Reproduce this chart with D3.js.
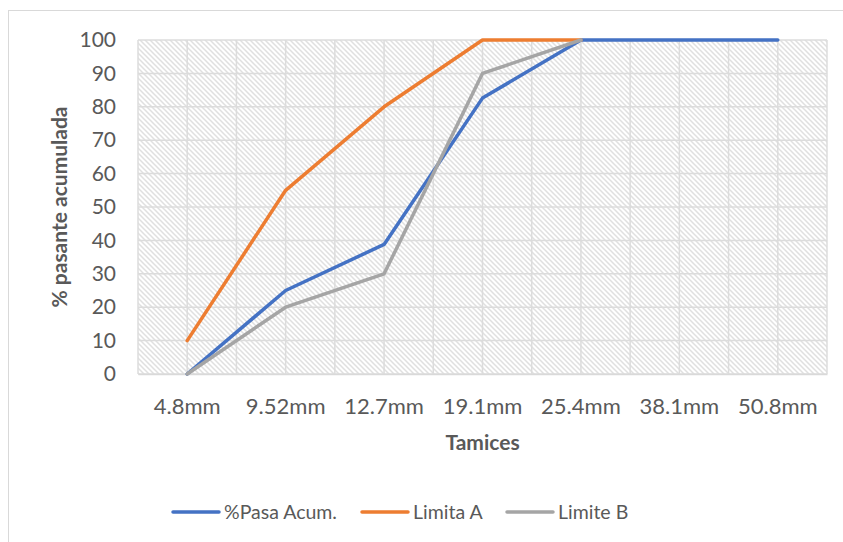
<!DOCTYPE html>
<html><head><meta charset="utf-8">
<script src="https://cdn.jsdelivr.net/npm/d3@7"></script>
<style>body{margin:0;background:#fff}svg{display:block}</style>
</head><body>
<script>
const categories = ["4.8mm","9.52mm","12.7mm","19.1mm","25.4mm","38.1mm","50.8mm"];
const pasaAcum = [0, 25, 38.8, 82.6, 100, 100, 100];
const limitaA = [10, 55, 80, 100, 100];
const limiteB = [0, 20, 30, 90, 100];
const yTicks = [0,10,20,30,40,50,60,70,80,90,100];
const seriesNames = ["%Pasa Acum.","Limita A","Limite B"];
const colors = ["#4472C4","#ED7D31","#A5A5A5"];

const W=843,H=542;
const svg=d3.select("body").append("svg").attr("width",W).attr("height",H);
const font="Lato, 'Open Sans', sans-serif";
const txt="#595959";

// outer border
svg.append("rect").attr("x",8.5).attr("y",10.5).attr("width",900).attr("height",600)
  .attr("fill","#fff").attr("stroke","#d9d9d9").attr("stroke-width",1);

const L=138,R=827,T=40,B=374;
const x=d3.scaleBand().domain(categories).range([L,R]);
const y=d3.scaleLinear().domain([0,100]).range([B,T]);

const defs=svg.append("defs");
const pat=defs.append("pattern").attr("id","hatch").attr("patternUnits","userSpaceOnUse")
  .attr("width",5).attr("height",5);
pat.append("rect").attr("width",5).attr("height",5).attr("fill","#fff");
pat.append("path").attr("d","M-1,-1 L6,6 M-1,4 L1,6 M4,-1 L6,1").attr("stroke","#e0e0e0").attr("stroke-width",1.5);

svg.append("rect").attr("x",L).attr("y",T).attr("width",R-L).attr("height",B-T).attr("fill","url(#hatch)");

// gridlines
const g=svg.append("g");
g.selectAll("line.h").data(yTicks).join("line")
  .attr("x1",L).attr("x2",R).attr("y1",d=>y(d)).attr("y2",d=>y(d))
  .attr("stroke","#dcdcdc").attr("stroke-width",1.5);
const vx=[];
categories.forEach(c=>{vx.push(x(c)); vx.push(x(c)+x.bandwidth()/2);});
vx.push(R);
g.selectAll("line.v").data(vx).join("line")
  .attr("x1",d=>d).attr("x2",d=>d).attr("y1",T).attr("y2",B)
  .attr("stroke","#dcdcdc").attr("stroke-width",1.5);

// axes
const yAxis=svg.append("g").attr("transform",`translate(${L},0)`)
  .call(d3.axisLeft(y).tickValues(yTicks).tickSize(0).tickPadding(22));
yAxis.select(".domain").remove();
yAxis.selectAll("text").attr("font-family",font).attr("font-size",21).attr("fill",txt);

const xAxis=svg.append("g").attr("transform",`translate(0,${B})`)
  .call(d3.axisBottom(x).tickSize(0).tickPadding(24));
xAxis.select(".domain").attr("stroke","#d9d9d9").attr("stroke-width",1.5);
xAxis.selectAll("text").attr("font-family",font).attr("font-size",22).attr("fill",txt);

// titles
svg.append("text").attr("x",(L+R)/2).attr("y",450).attr("text-anchor","middle")
  .attr("font-family",font).attr("font-size",21).attr("font-weight","bold").attr("fill",txt).text("Tamices");
svg.append("text").attr("transform",`translate(67,${(T+B)/2}) rotate(-90)`).attr("text-anchor","middle")
  .attr("font-family",font).attr("font-size",21).attr("font-weight","bold").attr("fill",txt).text("% pasante acumulada");

// lines
const line=d3.line().x((d,i)=>x(categories[i])+x.bandwidth()/2).y(d=>y(d));
[pasaAcum,limitaA,limiteB].forEach((s,i)=>{
  svg.append("path").datum(s).attr("d",line).attr("fill","none")
    .attr("stroke",colors[i]).attr("stroke-width",3.5).attr("stroke-linejoin","round").attr("stroke-linecap","round");
});

// legend
const legX=[173,362,507];
seriesNames.forEach((n,i)=>{
  svg.append("line").attr("x1",legX[i]).attr("x2",legX[i]+46).attr("y1",512).attr("y2",512)
    .attr("stroke",colors[i]).attr("stroke-width",3.5).attr("stroke-linecap","round");
  svg.append("text").attr("x",legX[i]+51).attr("y",519).attr("font-family",font).attr("font-size",19.5)
    .attr("fill",txt).text(n);
});
</script>
</body></html>
